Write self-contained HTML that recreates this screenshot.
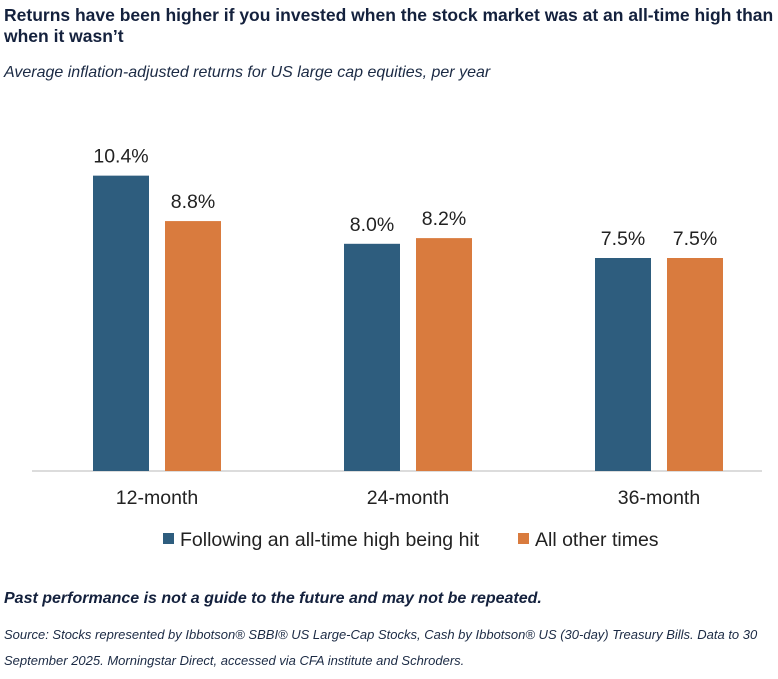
<!DOCTYPE html>
<html><head><meta charset="utf-8"><style>
body{margin:0;width:778px;height:679px;background:#fff;font-family:"Liberation Sans",sans-serif;overflow:hidden;position:relative}
.t{position:absolute;left:4px;color:#14213d}
</style></head><body>
<div class="t" style="top:5px;font-weight:bold;font-size:17.5px;line-height:21px;width:776px">Returns have been higher if you invested when the stock market was at an all-time high than when it wasn’t</div>
<div class="t" style="top:64px;font-style:italic;font-size:16px;color:#1b2a44">Average inflation-adjusted returns for US large cap equities, per year</div>
<svg id="c" width="778" height="560" style="position:absolute;left:0;top:0"></svg>
<div class="t" style="top:590px;font-weight:bold;font-style:italic;font-size:16px">Past performance is not a guide to the future and may not be repeated.</div>
<div class="t" style="top:622px;font-style:italic;font-size:13px;line-height:26px;width:765px;color:#1b2a44">Source: Stocks represented by Ibbotson® SBBI® US Large-Cap Stocks, Cash by Ibbotson® US (30-day) Treasury Bills. Data to 30<br>September 2025. Morningstar Direct, accessed via CFA institute and Schroders.</div>
<script>
const categories=["12-month","24-month","36-month"];
const seriesNames=["Following an all-time high being hit","All other times"];
const athValues=[10.4,8.0,7.5];
const otherValues=[8.8,8.2,7.5];
const colors=["#2e5d7e","#d97b3e"];
const svg=document.getElementById('c');
const NS="http://www.w3.org/2000/svg";
const base=471, scale=28.4;
const y=v=>base-v*scale;
const xc=i=>157+i*251;
function mk(t,a){const e=document.createElementNS(NS,t);for(const k in a)e.setAttribute(k,a[k]);svg.appendChild(e);return e;}
const ax=mk('line',{x1:32,x2:762,y1:base,y2:base,stroke:'#d0d0d0','stroke-width':1.5});


[athValues,otherValues].forEach((vals,s)=>{
 vals.forEach((v,i)=>{
  const x=xc(i)+(s===0?-64:8);
  const r=mk('rect',{x:x,y:y(v),width:56,height:base-y(v),fill:colors[s]});
  
  
  const t=mk('text',{x:x+28,y:y(v)-13,'text-anchor':'middle','font-size':19.5,fill:'#222'});
  t.textContent=v.toFixed(1)+'%';
  
  
 });
});
categories.forEach((c,i)=>{
 const t=mk('text',{x:xc(i),y:504,'text-anchor':'middle','font-size':19.5,fill:'#222'});
 t.textContent=c;
 
 
});
const lx=[163,518];
seriesNames.forEach((n,s)=>{
 const r=mk('rect',{x:lx[s],y:533,width:11,height:11,fill:colors[s]});
 
 
 const t=mk('text',{x:lx[s]+17,y:546,'font-size':19.5,fill:'#222'});
 t.textContent=n;
 
 
});
</script>
</body></html>
